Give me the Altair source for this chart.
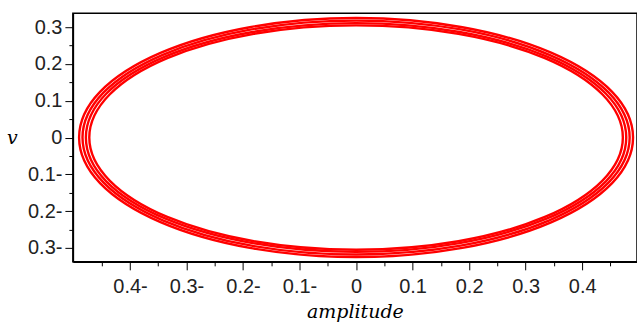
import json
import altair as alt
import pandas as pd

# Phase-portrait loops (amplitude, v), one list per loop
loop_ids = ["1", "2", "3", "4"]
amp_1 = [0.490, 0.453, 0.346, 0.188, 0.000, -0.188, -0.346, -0.453, -0.490, -0.453, -0.346, -0.188, 0.000, 0.188, 0.346, 0.453]
v_1 = [0.000, 0.124, 0.230, 0.300, 0.325, 0.300, 0.230, 0.124, 0.000, -0.124, -0.230, -0.300, -0.325, -0.300, -0.230, -0.124]
amp_2 = [0.484, 0.447, 0.342, 0.185, 0.000, -0.185, -0.342, -0.447, -0.484, -0.447, -0.342, -0.185, 0.000, 0.185, 0.342, 0.447]
v_2 = [0.000, 0.122, 0.225, 0.294, 0.318, 0.294, 0.225, 0.122, 0.000, -0.122, -0.225, -0.294, -0.318, -0.294, -0.225, -0.122]
amp_3 = [0.478, 0.442, 0.338, 0.183, 0.000, -0.183, -0.338, -0.442, -0.478, -0.442, -0.338, -0.183, 0.000, 0.183, 0.338, 0.442]
v_3 = [0.000, 0.119, 0.220, 0.287, 0.311, 0.287, 0.220, 0.119, 0.000, -0.119, -0.220, -0.287, -0.311, -0.287, -0.220, -0.119]
amp_4 = [0.472, 0.436, 0.334, 0.181, 0.000, -0.181, -0.334, -0.436, -0.472, -0.436, -0.334, -0.181, 0.000, 0.181, 0.334, 0.436]
v_4 = [0.000, 0.117, 0.216, 0.282, 0.305, 0.282, 0.216, 0.117, 0.000, -0.117, -0.216, -0.282, -0.305, -0.282, -0.216, -0.117]

# Axis ticks and their labels (Maple-style trailing minus)
x_ticks = [-0.45, -0.4, -0.35, -0.3, -0.25, -0.2, -0.15, -0.1, -0.05, 0.0,
           0.05, 0.1, 0.15, 0.2, 0.25, 0.3, 0.35, 0.4, 0.45]
x_labels = ["", "0.4-", "", "0.3-", "", "0.2-", "", "0.1-", "", "0",
            "", "0.1", "", "0.2", "", "0.3", "", "0.4", ""]
y_ticks = [-0.3, -0.25, -0.2, -0.15, -0.1, -0.05, 0.0, 0.05, 0.1, 0.15, 0.2, 0.25, 0.3]
y_labels = ["0.3-", "", "0.2-", "", "0.1-", "", "0", "", "0.1", "", "0.2", "", "0.3"]

rows = []
for lid, xs, vs in zip(loop_ids, [amp_1, amp_2, amp_3, amp_4], [v_1, v_2, v_3, v_4]):
    for i, (a, v) in enumerate(zip(xs, vs)):
        rows.append({"loop": lid, "step": i, "amplitude": a, "v": v})
df = pd.DataFrame(rows)

x_expr = json.dumps(x_labels) + "[round(datum.value*20)+9]"
y_expr = json.dumps(y_labels) + "[round(datum.value*20)+6]"
minor_size = {"condition": {"test": "abs(round(datum.value*20)) % 2 == 1", "value": 4}, "value": 8}

x_axis = alt.Axis(
    values=x_ticks, labelExpr=x_expr, tickSize=minor_size, tickColor="black",
    domainColor="black", domainWidth=1.5, labelFont="Liberation Sans", labelFontSize=20,
    labelColor="#222222", labelPadding=7, labelOverlap=False, labelFlush=False,
    title="amplitude", titleFont="DejaVu Serif", titleFontStyle="italic",
    titleFontWeight="normal", titleFontSize=19, titleColor="black",
    titleBaseline="alphabetic", titleY=56, grid=False,
)
y_axis = alt.Axis(
    values=y_ticks, labelExpr=y_expr, tickSize=minor_size, tickColor="black",
    domainColor="black", domainWidth=1.5, labelFont="Liberation Sans", labelFontSize=20,
    labelColor="#222222", labelPadding=3, labelOverlap=False, labelFlush=False,
    title="v", titleFont="DejaVu Serif", titleFontStyle="italic", titleFontWeight="normal",
    titleFontSize=19, titleColor="black", titleAngle=0, titleAlign="center",
    titleBaseline="middle", titleX=-61, titleY=124, grid=False,
)

chart = alt.Chart(df).mark_line(
    color="#ff0000", strokeWidth=2.4, interpolate="cardinal-closed"
).encode(
    x=alt.X("amplitude:Q", scale=alt.Scale(domain=[-0.501, 0.497], nice=False, zero=False), axis=x_axis),
    y=alt.Y("v:Q", scale=alt.Scale(domain=[-0.338, 0.338], nice=False, zero=False), axis=y_axis),
    detail="loop:N",
    order="step:Q",
).properties(
    width=565, height=249,
    autosize=alt.AutoSizeParams(type="none"),
    padding={"left": 73, "top": 13, "right": 0, "bottom": 62},
    background="white",
).configure_view(stroke="black", strokeWidth=1.5)

chart.save("out.html", embed_options={"renderer": "svg", "actions": False})
